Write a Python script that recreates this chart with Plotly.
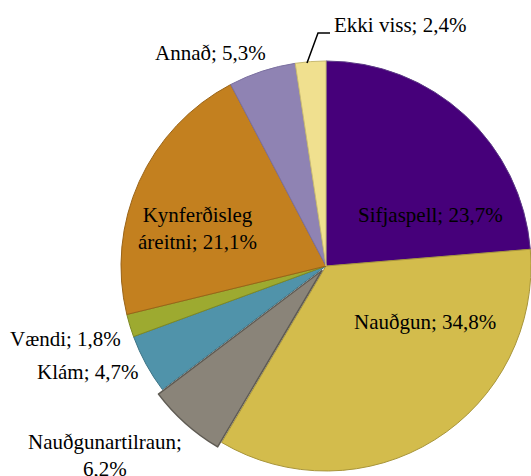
import plotly.graph_objects as go

# Data
categories = ["Sifjaspell", "Nauðgun", "Nauðgunartilraun", "Klám", "Vændi",
              "Kynferðisleg áreitni", "Annað", "Ekki viss"]
values = [23.7, 34.8, 6.2, 4.7, 1.8, 21.1, 5.3, 2.4]

# Styles
fill_colors = ["#46007A", "#D3BC4C", "#8A8479", "#5093AA", "#9DAA30",
               "#C3801F", "#8F83B3", "#F0E08F"]
line_colors = ["#5C3A85", "#A8953A", "#5E5A52", "#3D7486", "#7D8826",
               "#9A6418", "#7B70A0", "#C9BB72"]
exploded = 2  # index of the pulled-out slice

W, H = 531, 476
FONT = dict(family="Times New Roman", size=21, color="#000000")

def fmt(label, v):
    return f"{label}; {v:.1f}%".replace(".", ",")

texts = [fmt(c, v) for c, v in zip(categories, values)]
texts[2] = "Nauðgunartilraun;<br>" + f"{values[2]:.1f}%".replace(".", ",")
texts[5] = "Kynferðisleg<br>" + f"áreitni; {values[5]:.1f}%".replace(".", ",")

# label positions in pixels (x, y from top)
label_px = [(430, 215), (425, 322), (105, 455), (87, 372), (65, 339),
            (197, 228), (210, 53), (400, 25)]

cx, cy, half = 326, 266, 205  # pie box in pixels
def dom(dx=0, dy=0):
    return dict(x=[(cx - half + dx) / W, min(1.0, (cx + half + dx) / W)],
                y=[(H - cy - half - dy) / H, (H - cy + half - dy) / H])

main_colors = [c if i != exploded else "rgba(0,0,0,0)" for i, c in enumerate(fill_colors)]
main_lines = [c if i != exploded else "rgba(0,0,0,0)" for i, c in enumerate(line_colors)]
ex_colors = ["rgba(0,0,0,0)" if i != exploded else c for i, c in enumerate(fill_colors)]
ex_lines = ["rgba(0,0,0,0)" if i != exploded else c for i, c in enumerate(line_colors)]

common = dict(labels=categories, values=values, sort=False, direction="clockwise",
              rotation=0, textinfo="none", hoverinfo="label+percent", showlegend=False)

fig = go.Figure()
fig.add_trace(go.Pie(**common, marker=dict(colors=main_colors, line=dict(color=main_lines, width=1)),
                     domain=dom()))
fig.add_trace(go.Pie(**common, marker=dict(colors=ex_colors, line=dict(color=ex_lines, width=1.5)),
                     domain=dom(-4, 4.5)))

for t, (px, py) in zip(texts, label_px):
    fig.add_annotation(
        x=px / W, y=1 - py / H, xref="paper", yref="paper",
        text=t, showarrow=False, align="center",
        xanchor="center", yanchor="middle", font=FONT,
    )

# leader line for "Ekki viss"
fig.add_shape(
    type="path", xref="paper", yref="paper",
    path=f"M {307/W} {1-63/H} L {318/W} {1-33/H} L {330/W} {1-33/H}",
    line=dict(color="#000000", width=1.5),
)

fig.update_layout(
    width=W, height=H,
    margin=dict(l=0, r=0, t=0, b=0),
    paper_bgcolor="white",
    plot_bgcolor="white",
    font=FONT,
)

fig.write_html("out.html", post_script="document.body.style.margin='0';",
               config={"displayModeBar": False})
